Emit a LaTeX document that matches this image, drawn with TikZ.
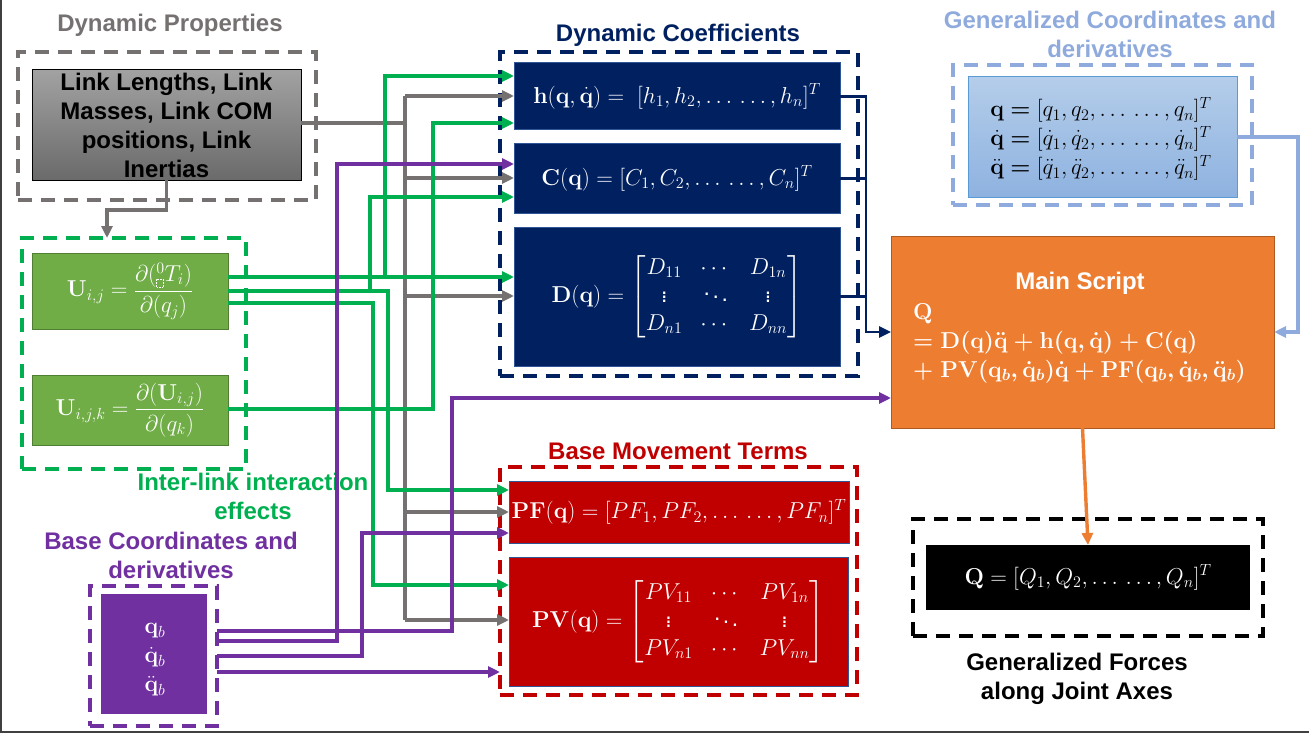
\RequirePackage{fix-cm}
\documentclass[tikz,border=0pt]{standalone}
\usepackage{amsmath,amssymb}
\usepackage[no-math]{fontspec}
\setmainfont{Liberation Sans}
\usetikzlibrary{arrows.meta}
\definecolor{cgray}{HTML}{767171}
\definecolor{cgreen}{HTML}{00B050}
\definecolor{cpurple}{HTML}{7030A0}
\definecolor{cnavy}{HTML}{002060}
\definecolor{clblue}{HTML}{8FAADC}
\definecolor{cred}{HTML}{C00000}
\definecolor{corange}{HTML}{ED7D31}
\definecolor{cugreen}{HTML}{70AD47}
\definecolor{cugreenb}{HTML}{507E32}
\definecolor{dptop}{HTML}{A2A2A2}
\definecolor{dpbot}{HTML}{6A6A6A}
\definecolor{gctop}{HTML}{B4CDEA}
\definecolor{gcbot}{HTML}{8EB2E0}
\definecolor{gcbord}{HTML}{5B9BD5}
\definecolor{boxbord}{HTML}{2F5597}
\definecolor{orbord}{HTML}{AE5A21}
\definecolor{framec}{HTML}{404040}
\newcommand\lblfont{\fontsize{24}{29}\selectfont\bfseries}
\newcommand\mfont{\fontsize{23}{28}\selectfont}
\newcommand\dd{\ldots\,\ldots}
\newcommand\dsq{\tikz[x=1pt,y=1pt,baseline=0pt]{\draw[white,densely dotted,line width=0.6pt] (0,0) rectangle (7,8);}}
\setlength{\arraycolsep}{9pt}
\begin{document}
\begin{tikzpicture}[x=1pt,y=-1pt,
  dashbox/.style={line width=3.5pt, dash pattern=on 14pt off 9pt, inner sep=0pt, outer sep=0pt},
  solidbox/.style={inner sep=0pt, outer sep=0pt, line width=1pt, align=center, font=\mfont},
  ttl/.style={font=\lblfont, align=center, inner sep=0pt},
  conn/.style={line width=3.4pt, line join=miter},
  arr/.style={conn, -{Triangle[length=12pt,width=11pt]}},
]
\useasboundingbox (0,0) rectangle (1309,733);
\draw[framec, line width=2pt] (1,0) -- (1,732) -- (1309,732);

% ---------- titles ----------
\node[ttl, text=cgray] (tdp) at (170,25) {Dynamic Properties};
\node[ttl, text=cnavy] (tdc) at (678,35) {Dynamic Coefficients};
\node[ttl, text=clblue] (tgc) at (1110,34) {Generalized Coordinates and\\derivatives};
\node[ttl, text=cgreen] (til) at (253,496) {Inter-link interaction\\effects};
\node[ttl, text=cpurple] (tbc) at (171,555) {Base Coordinates and\\derivatives};
\node[ttl, text=cred] (tbm) at (678,451) {Base Movement Terms};
\node[ttl, text=black] (tgf) at (1077,679) {Generalized Forces\\along Joint Axes};

% ---------- dashed group boxes ----------
\node[dashbox, draw=cgray, minimum width=298pt, minimum height=148pt] (dpdash) at (167,126) {};
\node[dashbox, draw=cgreen, minimum width=224pt, minimum height=231pt] (greendash) at (134,353.5) {};
\node[dashbox, draw=cpurple, minimum width=127pt, minimum height=140pt] (qbdash) at (153.5,656) {};
\node[dashbox, draw=cnavy, minimum width=358pt, minimum height=324pt] (navydash) at (679,214) {};
\node[dashbox, draw=clblue, minimum width=299pt, minimum height=140pt] (gcdash) at (1102.5,135) {};
\node[dashbox, draw=cred, minimum width=357pt, minimum height=228pt] (reddash) at (678.5,581) {};
\node[dashbox, draw=black, minimum width=350pt, minimum height=117pt] (qdash) at (1088,577.5) {};

% ---------- filled boxes ----------
\node[solidbox, draw=black, top color=dptop, bottom color=dpbot, minimum width=269pt, minimum height=110pt, font=\lblfont, text=black] (dp) at (166.5,125)
  {Link Lengths, Link\\Masses, Link COM\\positions, Link\\Inertias};
\node[solidbox, draw=cugreenb, fill=cugreen, text=white, minimum width=196pt, minimum height=76pt] (uij) at (130,291)
  {$\mathbf{U}_{i,j} = \dfrac{\partial({}^{0}_{\dsq}T_i)}{\partial(q_j)}$};
\node[solidbox, draw=cugreenb, fill=cugreen, text=white, minimum width=196pt, minimum height=70pt] (uijk) at (130,410)
  {$\mathbf{U}_{i,j,k} = \dfrac{\partial(\mathbf{U}_{i,j})}{\partial(q_k)}$};
\node[solidbox, fill=cpurple, minimum width=106pt, minimum height=120pt] (qb) at (154,654) {};
\node[solidbox, text=white, font=\fontsize{23}{29}\selectfont] (qbtxt) at (155,660)
  {$\mathbf{q}_b$\\$\dot{\mathbf{q}}_b$\\$\ddot{\mathbf{q}}_b$};

\node[solidbox, draw=boxbord, fill=cnavy, text=white, minimum width=326pt, minimum height=67pt] (hbox) at (677,96.5)
  {$\mathbf{h}(\mathbf{q},\dot{\mathbf{q}}) = \;[h_1, h_2, \dd, h_n]^T$};
\node[solidbox, draw=boxbord, fill=cnavy, text=white, minimum width=326pt, minimum height=69pt] (cbox) at (677,178.5)
  {$\mathbf{C}(\mathbf{q}) = [C_1, C_2, \dd, C_n]^T$};
\node[solidbox, draw=boxbord, fill=cnavy, text=white, minimum width=326pt, minimum height=139pt] (dbox) at (677,296.5)
  {$\mathbf{D}(\mathbf{q}) = \begin{bmatrix} D_{11} & \cdots & D_{1n}\\ \vdots & \ddots & \vdots\\ D_{n1} & \cdots & D_{nn}\end{bmatrix}$};

\node[solidbox, draw=boxbord, fill=cred, text=white, minimum width=340pt, minimum height=62pt] (pfbox) at (679,512)
  {$\mathbf{PF}(\mathbf{q}) = [PF_1, PF_2, \dd, PF_n]^T$};
\node[solidbox, draw=boxbord, fill=cred, text=white, minimum width=339pt, minimum height=129pt] (pvbox) at (678.5,621.5)
  {$\mathbf{PV}(\mathbf{q}) = \begin{bmatrix} PV_{11} & \cdots & PV_{1n}\\ \vdots & \ddots & \vdots\\ PV_{n1} & \cdots & PV_{nn}\end{bmatrix}$};

\node[solidbox, draw=gcbord, top color=gctop, bottom color=gcbot, minimum width=269pt, minimum height=120pt] (gcbox) at (1102.5,137) {};
\node[solidbox, align=left, font=\fontsize{23}{29}\selectfont] (gctxt) at (1101,139)
  {$\mathbf{q} \mathrel{\boldsymbol{=}} [q_1, q_2, \dd, q_n]^T$\\
   $\dot{\mathbf{q}} \mathrel{\boldsymbol{=}} [\dot q_1, \dot q_2, \dd, \dot q_n]^T$\\
   $\ddot{\mathbf{q}} \mathrel{\boldsymbol{=}} [\ddot q_1, \ddot q_2, \dd, \ddot q_n]^T$};

\node[solidbox, draw=orbord, fill=corange, minimum width=383pt, minimum height=192pt] (main) at (1082.5,332) {};
\node[ttl, text=white] (mtitle) at (1080,283) {Main Script};
\node[solidbox, text=white, align=left, anchor=west, font=\fontsize{23}{29}\selectfont] (meq) at (913,343)
  {$\boldsymbol{\mathbf{Q}}$\\
   $\boldsymbol{= \mathbf{D}(\mathbf{q})\ddot{\mathbf{q}} + \mathbf{h}(\mathbf{q},\dot{\mathbf{q}}) + \mathbf{C}(\mathbf{q})}$\\
   $\boldsymbol{+\;\mathbf{PV}(\mathbf{q}_b,\dot{\mathbf{q}}_b)\dot{\mathbf{q}} + \mathbf{PF}(\mathbf{q}_b,\dot{\mathbf{q}}_b,\ddot{\mathbf{q}}_b)}$};

\node[solidbox, fill=black, text=white, minimum width=324pt, minimum height=65pt] (qbox) at (1088,577.5)
  {$\mathbf{Q} = [Q_1, Q_2, \dd, Q_n]^T$};

% ---------- gray connectors ----------
\draw[conn, cgray] (dp.south) -- (dp.south |- 0,210) -- (107,210);
\draw[arr, cgray] (107,208.3) -- (greendash.north -| 107,0);
\draw[conn, cgray] (dp.east |- 0,123) -- (405,123);
\draw[conn, cgray] (405,96) -- (405,620);
\draw[arr, cgray] (405,96) -- (hbox.west |- 0,96);
\draw[arr, cgray] (405,178) -- (cbox.west |- 0,178);
\draw[arr, cgray] (405,296) -- (dbox.west |- 0,296);
\draw[arr, cgray] (405,512) -- (pfbox.west |- 0,512);
\draw[arr, cgray] (405,620) -- (pvbox.west |- 0,620);

% ---------- green connectors ----------
\draw[arr, cgreen] (uij.east |- 0,277) -- (dbox.west |- 0,277);
\draw[arr, cgreen] (385,277) -- (385,76) -- (hbox.west |- 0,76);
\draw[arr, cgreen] (uij.east |- 0,291) -- (388,291) -- (388,490) -- (pfbox.west |- 0,490);
\draw[arr, cgreen] (370,291) -- (370,197) -- (cbox.west |- 0,197);
\draw[arr, cgreen] (uij.east |- 0,303) -- (373,303) -- (373,585) -- (pvbox.west |- 0,585);
\draw[arr, cgreen] (uijk.east |- 0,409) -- (433,409) -- (433,123) -- (hbox.west |- 0,123);

% ---------- purple connectors ----------
\draw[arr, cpurple] (qbdash.east |- 0,631) -- (452,631) -- (452,398) -- (main.west |- 0,398);
\draw[arr, cpurple] (qbdash.east |- 0,641) -- (337,641) -- (337,164) -- (cbox.west |- 0,164);
\draw[arr, cpurple] (qbdash.east |- 0,656) -- (362,656) -- (362,533) -- (pfbox.west |- 0,533);
\draw[arr, cpurple] (qbdash.east |- 0,672) -- (reddash.west |- 0,672);

% ---------- navy connectors ----------
\draw[conn, cnavy, line width=2.8pt] (cbox.east) -- (866,178.5);
\draw[conn, cnavy, line width=2.8pt] (dbox.east) -- (866,296.5);
\draw[arr, cnavy, line width=2.8pt] (hbox.east) -- (866,96.5) -- (866,332) -- (main.west);

% ---------- light blue connector ----------
\draw[arr, clblue] (gcbox.east) -- (1298,137) -- (1298,332) -- (main.east);

% ---------- orange connector ----------
\draw[arr, corange] (main.south) -- (qbox.north);
\end{tikzpicture}
\end{document}
